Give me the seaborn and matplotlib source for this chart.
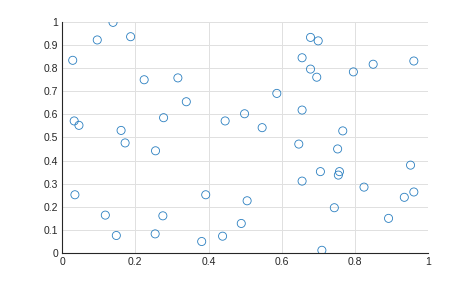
import matplotlib
matplotlib.use("Agg")
import matplotlib.pyplot as plt
import seaborn as sns
import pandas as pd

x_vals = [0.139, 0.096, 0.187, 0.029, 0.224, 0.316, 0.339, 0.033, 0.046, 0.161,
          0.277, 0.445, 0.172, 0.255, 0.035, 0.118, 0.148, 0.254, 0.275, 0.392,
          0.381, 0.438, 0.489, 0.505, 0.709, 0.743, 0.891, 0.934, 0.960, 0.824,
          0.655, 0.705, 0.757, 0.754, 0.951, 0.646, 0.752, 0.766, 0.546, 0.498,
          0.586, 0.655, 0.678, 0.699, 0.655, 0.678, 0.695, 0.795, 0.849, 0.960]
y_vals = [0.997, 0.921, 0.935, 0.833, 0.749, 0.757, 0.654, 0.571, 0.552, 0.530,
          0.585, 0.571, 0.476, 0.442, 0.252, 0.164, 0.076, 0.083, 0.161, 0.252,
          0.050, 0.073, 0.128, 0.226, 0.012, 0.196, 0.150, 0.241, 0.264, 0.285,
          0.311, 0.352, 0.352, 0.337, 0.380, 0.471, 0.450, 0.528, 0.542, 0.602,
          0.690, 0.618, 0.932, 0.917, 0.844, 0.795, 0.760, 0.783, 0.816, 0.830]
x_ticks = [0, 0.2, 0.4, 0.6, 0.8, 1]
x_tick_labels = ["0", "0.2", "0.4", "0.6", "0.8", "1"]
y_ticks = [0, 0.1, 0.2, 0.3, 0.4, 0.5, 0.6, 0.7, 0.8, 0.9, 1]
y_tick_labels = ["0", "0.1", "0.2", "0.3", "0.4", "0.5", "0.6", "0.7", "0.8", "0.9", "1"]

df = pd.DataFrame({"x": x_vals, "y": y_vals})

sns.set_style("white")
plt.rcParams['font.family'] = ['Liberation Sans', 'DejaVu Sans']

fig = plt.figure(figsize=(4.74, 2.85), dpi=100)
ax = fig.add_axes([0.131, 0.112, 0.773, 0.812])

sns.scatterplot(data=df, x="x", y="y", ax=ax, marker="o", s=34,
                facecolors="none", edgecolor="#2a7fc0", linewidth=0.6, zorder=3)

ax.set_xlim(0, 1)
ax.set_ylim(0, 1)
ax.set_xticks(x_ticks)
ax.set_xticklabels(x_tick_labels)
ax.set_yticks(y_ticks)
ax.set_yticklabels(y_tick_labels)
ax.set_xlabel("")
ax.set_ylabel("")
ax.grid(True, color="#e0e0e0", linewidth=0.7)
ax.set_axisbelow(True)
for side in ["top", "right"]:
    ax.spines[side].set_visible(False)
for side in ["left", "bottom"]:
    ax.spines[side].set_color("#262626")
    ax.spines[side].set_linewidth(0.8)
ax.tick_params(axis="both", direction="in", length=3, width=0.7, color="#262626",
               labelsize=7.5, labelcolor="#262626", pad=3)

fig.savefig("out.png", dpi=100, facecolor="white")
